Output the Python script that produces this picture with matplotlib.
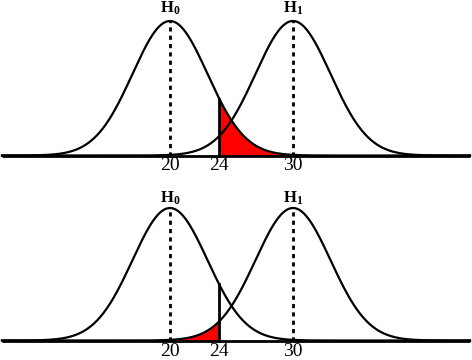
import matplotlib
matplotlib.use("Agg")
import matplotlib.pyplot as plt
import numpy as np

plt.rcParams['mathtext.fontset'] = 'custom'
plt.rcParams['mathtext.rm'] = 'Liberation Serif'
plt.rcParams['mathtext.bf'] = 'Liberation Serif:bold'

# parameters of the two hypotheses
mu0 = 20
mu1 = 30
sigma = 3.05
crit = 24
tick_vals = [20, 24, 30]
labels = [r'$\mathbf{H_0}$', r'$\mathbf{H_1}$']

W, H = 472, 360
fig = plt.figure(figsize=(W / 100, H / 100), dpi=100)

px_unit = 12.3
xlo = mu0 - 170 / px_unit
xhi = mu0 + (W - 170) / px_unit

def g(x, m):
    return np.exp(-(x - m) ** 2 / (2 * sigma ** 2))

x = np.linspace(xlo + 2 / px_unit, xlo + 470 / px_unit, 800)

# (pixel top of axes, pixel bottom, baseline pixel, peak pixel, label offset, tick offset, which tail)
panels = [(0, 180, 155.5, 21, 8, 9.5, 'top'), (180, 360, 340.5, 208, 5, 11, 'bottom')]

for top, bot, base, peak, loff, toff, which in panels:
    ax = fig.add_axes([0, 1 - bot / H, 1, (bot - top) / H])
    ax.set_axis_off()
    sc = base - peak
    ax.set_xlim(xlo, xhi)
    ax.set_ylim(-(bot - base) / sc, (base - top) / sc)

    if which == 'top':
        m = x >= crit
        ax.fill_between(x[m], 0, g(x[m], mu0), color='#ff0000', lw=0)
    else:
        m = x <= crit
        ax.fill_between(x[m], 0, g(x[m], mu1), color='#ff0000', lw=0)

    ax.plot(x, g(x, mu0), color='black', lw=1.6)
    ax.plot(x, g(x, mu1), color='black', lw=1.6)
    ax.plot([x[0], x[-1]], [0, 0], color='black', lw=2, solid_capstyle='butt')

    for mu, lab in zip([mu0, mu1], labels):
        ax.plot([mu, mu], [0, 1], color='black', lw=2, linestyle=(0, (1.5, 1.5)))
        ax.text(mu, 1 + loff / sc, lab, ha='center', va='baseline', fontsize=12)

    ax.plot([crit, crit], [0, g(crit, mu0)], color='black', lw=2)

    for t in tick_vals:
        ax.text(t, -toff / sc, str(t), ha='center', va='center', fontsize=14,
                family='Liberation Serif')

fig.savefig('out.png', dpi=100)
